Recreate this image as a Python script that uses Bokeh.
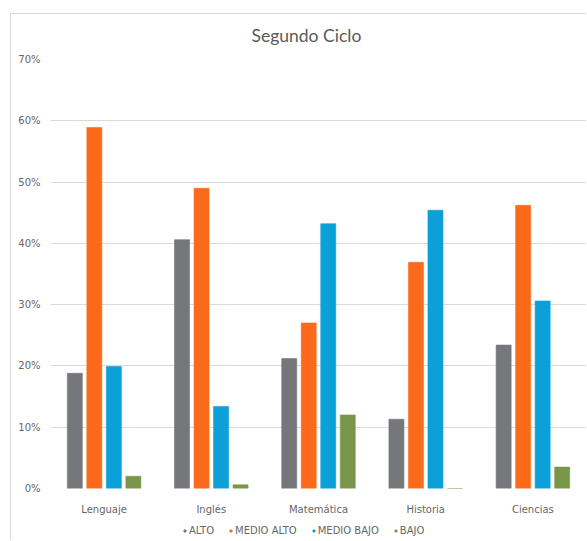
from bokeh.plotting import figure
from bokeh.layouts import column
from bokeh.models import ColumnDataSource, FixedTicker, PrintfTickFormatter, Legend, LegendItem, Label
from bokeh.transform import dodge
from bokeh.embed import file_html
from bokeh.resources import INLINE

categories = ["Lenguaje", "Inglés", "Matemática", "Historia", "Ciencias"]
alto = [18.8, 40.6, 21.2, 11.3, 23.4]
medio_alto = [58.9, 49.0, 27.0, 36.9, 46.2]
medio_bajo = [19.9, 13.4, 43.2, 45.4, 30.6]
bajo = [2.0, 0.6, 12.0, 0.0, 3.5]
series_names = ["ALTO", "MEDIO ALTO", "MEDIO BAJO", "BAJO"]
y_ticks = [0, 10, 20, 30, 40, 50, 60, 70]
title_text = "Segundo Ciclo"

colors = ["#76777B", "#FA6A1A", "#0BA0D8", "#79964A"]
FONT = "DejaVu Sans"
TXT = "#666666"
BORDER = "1px solid #D9D9D9"
W = 576

# title strip
tf = figure(width=W, height=39, output_backend="svg", toolbar_location=None,
            x_range=(0, W), y_range=(0, 39), x_axis_location=None, y_axis_location=None,
            min_border=0, margin=(13, 0, 0, 10),
            styles={"border-left": BORDER, "border-top": BORDER})
tf.grid.visible = False
tf.outline_line_color = None
tf.add_layout(Label(x=275, y=18, text=title_text, text_align="center", text_baseline="middle",
                    text_font="Lato", text_font_size="17.5px", text_color="#595959"))

# main chart
src = ColumnDataSource(dict(cat=categories, alto=alto, medio_alto=medio_alto,
                            medio_bajo=medio_bajo, bajo=bajo))

p = figure(x_range=categories, y_range=(0, 70), width=W, height=465,
           output_backend="svg", toolbar_location=None,
           min_border_left=39, min_border_right=1, min_border_top=7, min_border_bottom=26,
           margin=(0, 0, 0, 10), styles={"border-left": BORDER})

offsets = [-0.273, -0.091, 0.091, 0.273]
fields = ["alto", "medio_alto", "medio_bajo", "bajo"]
for f, off, c in zip(fields, offsets, colors):
    p.vbar(x=dodge("cat", off, range=p.x_range), top=f, width=0.14, source=src,
           fill_color=c, line_color=c, line_alpha=0.6)

p.x_range.range_padding = 0
p.yaxis.ticker = FixedTicker(ticks=y_ticks)
p.yaxis.formatter = PrintfTickFormatter(format="%d%%")
for ax in (p.xaxis[0], p.yaxis[0]):
    ax.axis_line_color = None
    ax.major_tick_line_color = None
    ax.minor_tick_line_color = None
    ax.major_label_text_font = FONT
    ax.major_label_text_font_size = "10px"
    ax.major_label_text_color = TXT
p.yaxis.major_label_standoff = 4
p.xaxis.major_label_standoff = 9

p.xgrid.grid_line_color = None
p.ygrid.grid_line_color = "#D9D9D9"
p.ygrid.grid_line_width = 1
p.outline_line_color = None

# legend strip below the chart
lg = figure(width=W, height=23, output_backend="svg", toolbar_location=None,
            x_range=(0, 1), y_range=(0, 1), x_axis_location=None, y_axis_location=None,
            min_border=0, margin=(0, 0, 0, 10), styles={"border-left": BORDER})
lg.grid.visible = False
lg.outline_line_color = None
items = []
for n, c in zip(series_names, colors):
    # placeholder point outside the visible range: only its legend swatch shows
    r = lg.scatter(x=[5], y=[5], marker="square", size=5, fill_color=c, line_color=c)
    items.append(LegendItem(label=n, renderers=[r]))
legend = Legend(items=items, orientation="horizontal", location=(132, 4),
                label_text_font=FONT, label_text_font_size="10px", label_text_color=TXT,
                glyph_width=5, glyph_height=5, spacing=14, label_standoff=2,
                border_line_color=None, background_fill_alpha=0, padding=0, margin=0)
lg.add_layout(legend)

layout = column(tf, p, lg, spacing=0)
open("out.html", "w").write(file_html(layout, INLINE))
